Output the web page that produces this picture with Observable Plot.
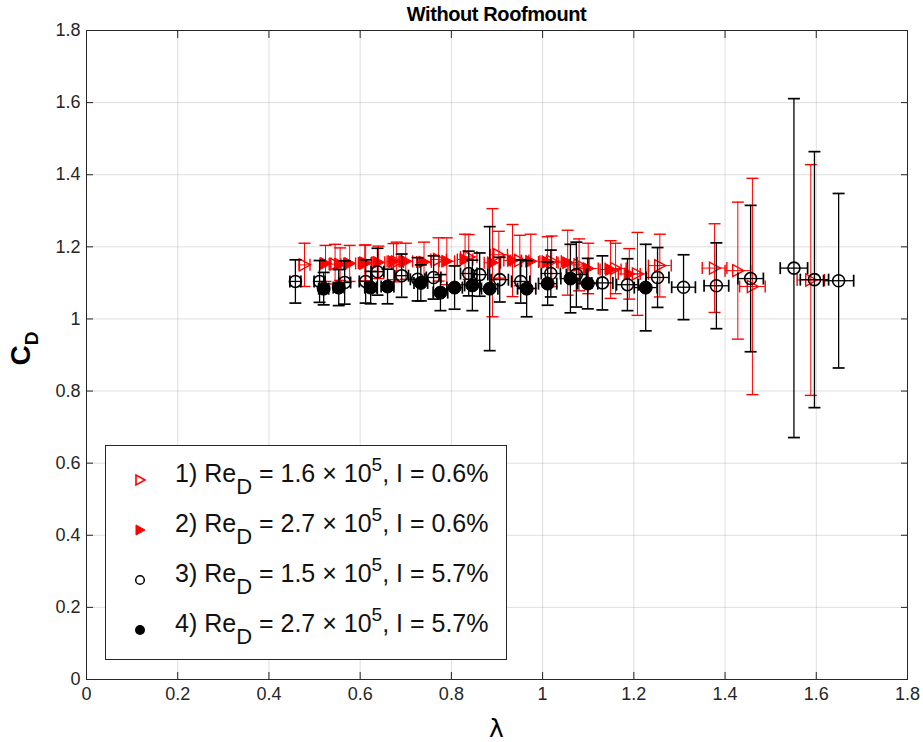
<!DOCTYPE html>
<html><head><meta charset="utf-8">
<script src="https://cdn.jsdelivr.net/npm/d3@7"></script>
<script src="https://cdn.jsdelivr.net/npm/@observablehq/plot@0.6"></script>
<style>
body{margin:0;background:#fff;font-family:"Liberation Sans",Arial,Helvetica,sans-serif;}
#wrap{position:relative;width:923px;height:742px;overflow:hidden;}
#title{position:absolute;left:86px;width:821px;top:3px;text-align:center;font-weight:bold;font-size:20px;color:#000;letter-spacing:-0.4px;}
#ylab{position:absolute;left:-14px;top:328px;width:80px;text-align:center;transform:rotate(-90deg);transform-origin:center;font-weight:bold;font-size:28px;color:#000;line-height:30px;}
#ylab sub{font-size:19px;vertical-align:-8px;}
#xlab{position:absolute;left:86px;width:821px;top:714px;text-align:center;font-size:25px;color:#000;font-family:"DejaVu Sans","Liberation Sans",sans-serif;}
#legend{position:absolute;left:105px;top:445px;width:402px;height:215px;border:1px solid #262626;background:#fff;box-sizing:border-box;}
.row{position:absolute;left:0;height:40px;width:100%;}
.row svg{position:absolute;left:26px;top:14px;}
.row span{position:absolute;left:69px;top:1px;font-size:25px;color:#111;white-space:nowrap;}
.row sub{font-size:22px;vertical-align:-12px;line-height:0;}
.row sup{font-size:19px;vertical-align:11px;line-height:0;}
</style></head><body>
<div id="wrap"></div>
<script>
// ---- tick values and labels
const xTicks = [0, 0.2, 0.4, 0.6, 0.8, 1, 1.2, 1.4, 1.6, 1.8];
const xTickLabels = ["0", "0.2", "0.4", "0.6", "0.8", "1", "1.2", "1.4", "1.6", "1.8"];
const yTicks = [0, 0.2, 0.4, 0.6, 0.8, 1, 1.2, 1.4, 1.6, 1.8];
const yTickLabels = ["0", "0.2", "0.4", "0.6", "0.8", "1", "1.2", "1.4", "1.6", "1.8"];

// ---- series 1: Re_D = 1.6e5, I = 0.6% (open red triangles)
const lam1 = [0.478, 0.545, 0.61, 0.68, 0.772, 0.838, 0.904, 0.95, 1.02, 1.08, 1.16, 1.208, 1.257, 1.377, 1.428, 1.46, 1.588];
const cd1  = [1.15, 1.152, 1.155, 1.158, 1.165, 1.172, 1.178, 1.162, 1.16, 1.15, 1.14, 1.125, 1.148, 1.141, 1.134, 1.09, 1.108];
const ecd1 = [0.06, 0.055, 0.05, 0.055, 0.06, 0.062, 0.065, 0.07, 0.07, 0.072, 0.07, 0.115, 0.087, 0.123, 0.19, 0.3, 0.32];
const elam1 = [0.012, 0.013, 0.014, 0.015, 0.017, 0.018, 0.019, 0.02, 0.021, 0.022, 0.023, 0.024, 0.025, 0.027, 0.028, 0.028, 0.03];

// ---- series 2: Re_D = 2.7e5, I = 0.6% (filled red triangles)
const lam2 = [0.524, 0.556, 0.577, 0.612, 0.64, 0.673, 0.70, 0.74, 0.79, 0.83, 0.89, 0.934, 0.974, 1.011, 1.055, 1.10, 1.149, 1.19];
const cd2  = [1.154, 1.152, 1.154, 1.155, 1.157, 1.159, 1.16, 1.158, 1.16, 1.165, 1.156, 1.162, 1.16, 1.158, 1.156, 1.14, 1.137, 1.125];
const ecd2 = [0.05, 0.045, 0.05, 0.05, 0.045, 0.05, 0.05, 0.055, 0.065, 0.07, 0.15, 0.1, 0.075, 0.07, 0.09, 0.07, 0.08, 0.07];
const elam2 = [0.012, 0.012, 0.013, 0.013, 0.014, 0.014, 0.015, 0.016, 0.017, 0.017, 0.018, 0.019, 0.02, 0.02, 0.021, 0.022, 0.023, 0.024];

// ---- series 3: Re_D = 1.5e5, I = 5.7% (open black circles)
const lam3 = [0.458, 0.511, 0.566, 0.612, 0.638, 0.691, 0.726, 0.761, 0.838, 0.862, 0.906, 0.952, 1.018, 1.074, 1.131, 1.186, 1.252, 1.309, 1.381, 1.456, 1.551, 1.596, 1.649];
const cd3  = [1.104, 1.104, 1.101, 1.104, 1.131, 1.12, 1.11, 1.115, 1.126, 1.123, 1.109, 1.104, 1.126, 1.123, 1.1, 1.095, 1.115, 1.088, 1.092, 1.112, 1.141, 1.109, 1.106];
const ecd3 = [0.06, 0.058, 0.06, 0.06, 0.065, 0.06, 0.06, 0.06, 0.062, 0.06, 0.062, 0.06, 0.065, 0.09, 0.075, 0.072, 0.083, 0.09, 0.119, 0.203, 0.47, 0.355, 0.242];
const elam3 = [0.012, 0.012, 0.013, 0.014, 0.014, 0.015, 0.016, 0.016, 0.018, 0.018, 0.019, 0.02, 0.021, 0.022, 0.023, 0.024, 0.025, 0.026, 0.027, 0.028, 0.03, 0.031, 0.033];

// ---- series 4: Re_D = 2.7e5, I = 5.7% (filled black circles)
const lam4 = [0.52, 0.553, 0.623, 0.66, 0.733, 0.776, 0.807, 0.846, 0.884, 0.965, 1.011, 1.061, 1.099, 1.226];
const cd4  = [1.084, 1.087, 1.087, 1.09, 1.1, 1.073, 1.087, 1.093, 1.084, 1.084, 1.098, 1.112, 1.098, 1.087];
const ecd4 = [0.045, 0.05, 0.045, 0.048, 0.05, 0.05, 0.06, 0.07, 0.172, 0.078, 0.06, 0.095, 0.07, 0.12];
const elam4 = [0.011, 0.012, 0.013, 0.014, 0.015, 0.016, 0.017, 0.017, 0.018, 0.02, 0.02, 0.021, 0.022, 0.025];

const seriesNames = ["1) Re_D = 1.6 × 10^5, I = 0.6%", "2) Re_D = 2.7 × 10^5, I = 0.6%", "3) Re_D = 1.5 × 10^5, I = 5.7%", "4) Re_D = 2.7 × 10^5, I = 5.7%"];
const seriesColors = ["#ff0000", "#ff0000", "#000000", "#000000"];

function table(lam, cd, ecd, elam) {
  return lam.map((x, i) => ({x, y: cd[i], ey: ecd[i], ex: elam[i]}));
}
const s1 = table(lam1, cd1, ecd1, elam1);
const s2 = table(lam2, cd2, ecd2, elam2);
const s3 = table(lam3, cd3, ecd3, elam3);
const s4 = table(lam4, cd4, ecd4, elam4);

// custom symbols
const rad = size => Math.sqrt(size / Math.PI);
const triRight = {draw(ctx, size) { const r = rad(size); ctx.moveTo(r, 0); ctx.lineTo(-r * 0.85, -r); ctx.lineTo(-r * 0.85, r); ctx.closePath(); }};
const hCap = {draw(ctx, size) { const r = rad(size); ctx.moveTo(-r, 0); ctx.lineTo(r, 0); }};
const vCap = {draw(ctx, size) { const r = rad(size); ctx.moveTo(0, -r); ctx.lineTo(0, r); }};

function errMarks(data, color, sw) {
  return [
    Plot.ruleX(data, {x: "x", y1: d => d.y - d.ey, y2: d => d.y + d.ey, stroke: color, strokeWidth: sw}),
    Plot.dot(data, {x: "x", y: d => d.y + d.ey, symbol: hCap, r: 6, stroke: color, strokeWidth: sw + 0.4}),
    Plot.dot(data, {x: "x", y: d => d.y - d.ey, symbol: hCap, r: 6, stroke: color, strokeWidth: sw + 0.4}),
    Plot.ruleY(data, {y: "y", x1: d => d.x - d.ex, x2: d => d.x + d.ex, stroke: color, strokeWidth: sw}),
    Plot.dot(data, {x: d => d.x - d.ex, y: "y", symbol: vCap, r: 6, stroke: color, strokeWidth: sw + 0.4}),
    Plot.dot(data, {x: d => d.x + d.ex, y: "y", symbol: vCap, r: 6, stroke: color, strokeWidth: sw + 0.4})
  ];
}

const axisStyle = {stroke: "#262626"};
const chart = Plot.plot({
  width: 923,
  height: 742,
  marginLeft: 86,
  marginRight: 16,
  marginTop: 30,
  marginBottom: 63,
  style: {fontFamily: "'Liberation Sans', Arial, Helvetica, sans-serif", fontSize: "18px", color: "#262626", background: "white", overflow: "visible"},
  x: {domain: [0, 1.8]},
  y: {domain: [0, 1.8]},
  marks: [
    Plot.gridX(xTicks, {stroke: "#262626", strokeOpacity: 0.15}),
    Plot.gridY(yTicks, {stroke: "#262626", strokeOpacity: 0.15}),
    Plot.axisX({ticks: xTicks, tickFormat: d => xTickLabels[xTicks.indexOf(d)], tickSize: -7, tickPadding: 15, label: null, ...axisStyle}),
    Plot.axisX({anchor: "top", ticks: xTicks, tickFormat: () => "", tickSize: -7, label: null, ...axisStyle}),
    Plot.axisY({ticks: yTicks, tickFormat: d => yTickLabels[yTicks.indexOf(d)], tickSize: -7, tickPadding: 13, label: null, ...axisStyle}),
    Plot.axisY({anchor: "right", ticks: yTicks, tickFormat: () => "", tickSize: -7, label: null, ...axisStyle}),
    Plot.frame({stroke: "#262626", strokeWidth: 1}),
    // series 1 & 2 (red)
    ...errMarks(s1, seriesColors[0], 1),
    Plot.dot(s1, {x: "x", y: "y", symbol: triRight, r: 6, stroke: seriesColors[0], strokeWidth: 1.4, fill: "none"}),
    ...errMarks(s2, seriesColors[1], 1),
    Plot.dot(s2, {x: "x", y: "y", symbol: triRight, r: 6, stroke: seriesColors[1], strokeWidth: 1, fill: seriesColors[1]}),
    // series 3 & 4 (black)
    ...errMarks(s3, seriesColors[2], 1.3),
    Plot.dot(s3, {x: "x", y: "y", r: 6, stroke: seriesColors[2], strokeWidth: 1.6, fill: "none"}),
    ...errMarks(s4, seriesColors[3], 1.3),
    Plot.dot(s4, {x: "x", y: "y", r: 6.5, stroke: seriesColors[3], strokeWidth: 1, fill: seriesColors[3]})
  ]
});

const wrap = document.getElementById("wrap");
wrap.appendChild(chart);

function add(html) { const d = document.createElement("div"); d.innerHTML = html; const el = d.firstElementChild; wrap.appendChild(el); return el; }
add(`<div id="title">Without Roofmount</div>`);
add(`<div id="ylab">C<sub>D</sub></div>`);
add(`<div id="xlab">λ</div>`);

const legend = add(`<div id="legend"></div>`);
const markerSvg = [
  `<svg width="16" height="16" viewBox="-8 -8 16 16"><path d="M5,0 L-4,-5 L-4,5 Z" fill="none" stroke="#ff0000" stroke-width="1.6"/></svg>`,
  `<svg width="16" height="16" viewBox="-8 -8 16 16"><path d="M5,0 L-4,-5 L-4,5 Z" fill="#ff0000" stroke="#ff0000" stroke-width="1"/></svg>`,
  `<svg width="16" height="16" viewBox="-8 -8 16 16"><circle r="4.3" fill="none" stroke="#000" stroke-width="1.5"/></svg>`,
  `<svg width="16" height="16" viewBox="-8 -8 16 16"><circle r="5" fill="#000"/></svg>`
];
function fmtName(s) {
  return s.replace("_D", "<sub>D</sub>").replace(/\^(\d+)/, "<sup>$1</sup>");
}
seriesNames.forEach((name, i) => {
  const row = document.createElement("div");
  row.className = "row";
  row.style.top = (12 + i * 50) + "px";
  row.innerHTML = markerSvg[i] + `<span>${fmtName(name)}</span>`;
  legend.appendChild(row);
});
</script>
</body></html>
